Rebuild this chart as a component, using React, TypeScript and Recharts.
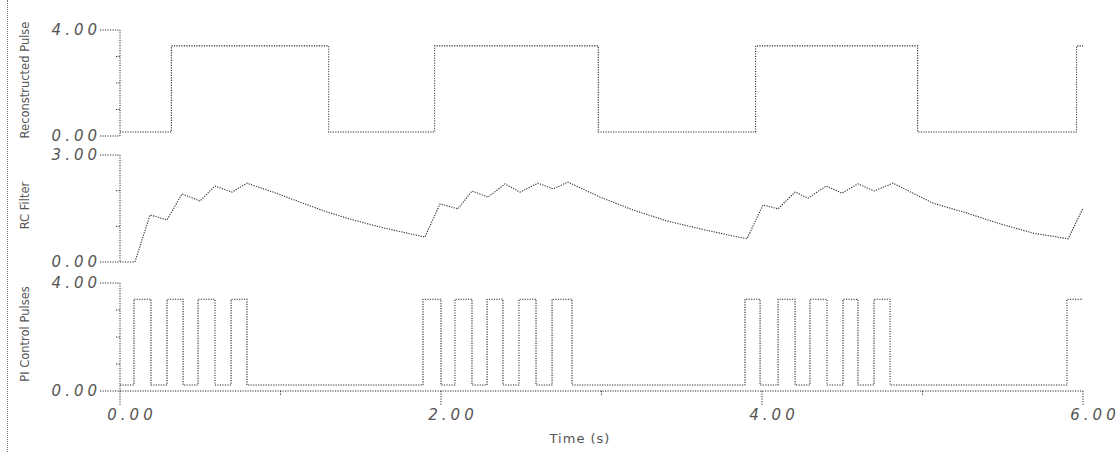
import React from "react";
import { LineChart, Line, XAxis, YAxis, Label } from "recharts";

// ---------- data ----------
// Reconstructed pulse: square wave edge times (s) and levels
const squareEdges = [0.32, 1.3, 1.96, 2.98, 3.96, 4.97, 5.96];
const squareLow = 0.15;
const squareHigh = 3.4;

// RC filter output
const rcTime = [
  0, 0.093, 0.187, 0.293, 0.386, 0.498, 0.592, 0.698, 0.791, 0.953, 1.121, 1.29, 1.452, 1.62, 1.788, 1.9,
  1.994, 2.106, 2.193, 2.293, 2.399, 2.492, 2.604, 2.698, 2.791, 2.991, 3.196, 3.408, 3.614, 3.819, 3.907,
  4.006, 4.1, 4.206, 4.287, 4.399, 4.498, 4.598, 4.698, 4.816, 5.065, 5.277, 5.483, 5.688, 5.907, 6.0,
];
const rcValue = [
  0, 0, 1.32, 1.18, 1.91, 1.71, 2.13, 1.96, 2.21, 1.96, 1.68, 1.4, 1.18, 0.98, 0.81, 0.7,
  1.63, 1.49, 1.99, 1.82, 2.19, 1.96, 2.21, 2.05, 2.24, 1.82, 1.46, 1.15, 0.93, 0.73, 0.65,
  1.6, 1.49, 1.96, 1.79, 2.13, 1.93, 2.19, 1.99, 2.21, 1.65, 1.37, 1.07, 0.81, 0.65, 1.51,
];

// PI control pulses: rise / fall times (s) and levels
const pwmRise = [0.087, 0.293, 0.486, 0.692, 1.888, 2.087, 2.287, 2.486, 2.692, 3.894, 4.1, 4.299, 4.505, 4.698, 5.9];
const pwmFall = [0.193, 0.393, 0.592, 0.791, 2.0, 2.193, 2.386, 2.592, 2.816, 3.988, 4.206, 4.405, 4.598, 4.798];
const pwmLow = 0.22;
const pwmHigh = 3.4;

const xTicks = [0, 1, 2, 3, 4, 5, 6];
const xMajor = [0, 2, 4, 6];
const panelLabels = ["Reconstructed Pulse", "RC Filter", "PI Control Pulses"];
const xTitle = "Time (s)";

// ---------- helpers ----------
function stepSeries(edges: number[], low: number, high: number, end: number) {
  const pts: { t: number; v: number }[] = [{ t: 0, v: low }];
  let level = low;
  edges.forEach((e) => {
    pts.push({ t: e, v: level });
    level = level === low ? high : low;
    pts.push({ t: e, v: level });
  });
  pts.push({ t: end, v: level });
  return pts;
}

const squareData = stepSeries(squareEdges, squareLow, squareHigh, 6);
const rcData = rcTime.map((t, i) => ({ t, v: rcValue[i] }));
const pwmEdges = [...pwmRise, ...pwmFall].sort((a, b) => a - b);
const pwmData = stepSeries(pwmEdges, pwmLow, pwmHigh, 6);

const INK = "#2a2a2a";
const TEXT = "#555";
const DASH = "1.2 1.3";
const AXIS_X = 120;
const W = 1119;
const MARGIN = { top: 0, right: 36, left: 0, bottom: 0 };

const tickFont: React.CSSProperties = {
  fontFamily: "DejaVu Sans",
  fontStyle: "italic",
  fontSize: 15,
  letterSpacing: 4,
};

function makeYTick(max: number) {
  return (props: any) => {
    const { y, payload } = props;
    const v = payload.value;
    const major = v === 0 || v === max;
    return (
      <g>
        <line
          x1={major ? AXIS_X - 20 : AXIS_X - 4}
          x2={AXIS_X}
          y1={y}
          y2={y}
          stroke={INK}
          strokeDasharray={DASH}
        />
        {major && (
          <text x={AXIS_X - 19} y={y} textAnchor="end" dominantBaseline="central" fill={TEXT} style={tickFont}>
            {v.toFixed(2)}
          </text>
        )}
      </g>
    );
  };
}

function sideLabel(text: string) {
  return (p: any) => {
    const vb = p.viewBox;
    const cy = vb.y + vb.height / 2 - 3;
    return (
      <text
        x={25}
        y={cy}
        transform={`rotate(-90 25 ${cy})`}
        textAnchor="middle"
        dominantBaseline="central"
        fill={TEXT}
        style={{ fontFamily: "DejaVu Sans", fontSize: 11.5 }}
      >
        {text}
      </text>
    );
  };
}

const X_PLOT_BOTTOM = 121;

function XTick(props: any) {
  const { x, payload } = props;
  const v = payload.value;
  const major = xMajor.includes(v);
  return (
    <g>
      <line x1={x} x2={x} y1={X_PLOT_BOTTOM} y2={X_PLOT_BOTTOM + (major ? 14 : 5)} stroke={INK} strokeDasharray={DASH} />
      {major && (
        <text x={x + 12} y={X_PLOT_BOTTOM + 24} textAnchor="middle" dominantBaseline="central" fill={TEXT} style={tickFont}>
          {v.toFixed(2)}
        </text>
      )}
    </g>
  );
}

function xTitleContent() {
  return (
    <text
      x={580}
      y={X_PLOT_BOTTOM + 47}
      textAnchor="middle"
      dominantBaseline="central"
      fill={TEXT}
      style={{ fontFamily: "DejaVu Sans", fontSize: 13, letterSpacing: 1 }}
    >
      {xTitle}
    </text>
  );
}

const lineProps = {
  type: "linear" as const,
  dataKey: "v",
  stroke: INK,
  strokeWidth: 1.1,
  strokeDasharray: DASH,
  dot: false,
  activeDot: false,
  isAnimationActive: false,
};

export default function App() {
  return (
    <div style={{ position: "absolute", left: 0, top: 0, width: W, height: 452, background: "#fff" }}>
      <div
        style={{
          position: "absolute",
          left: 7,
          top: 0,
          width: 0,
          height: 452,
          borderLeft: "1px dotted #777",
        }}
      />
      {/* Panel 1: plot 30..136 */}
      <div style={{ position: "absolute", left: 0, top: 0 }}>
        <LineChart width={W} height={150} data={squareData} margin={{ ...MARGIN, top: 30, bottom: 14 }}>
          <XAxis dataKey="t" type="number" domain={[0, 6]} hide />
          <YAxis
            type="number"
            domain={[0, 4]}
            ticks={[0, 1, 2, 3, 4]}
            interval={0}
            width={120}
            tickLine={false}
            axisLine={{ stroke: INK, strokeDasharray: DASH }}
            tick={makeYTick(4)}
          >
            <Label content={sideLabel(panelLabels[0])} />
          </YAxis>
          <Line {...lineProps} />
        </LineChart>
      </div>
      {/* Panel 2: plot 155..262 */}
      <div style={{ position: "absolute", left: 0, top: 140 }}>
        <LineChart width={W} height={135} data={rcData} margin={{ ...MARGIN, top: 15, bottom: 13 }}>
          <XAxis dataKey="t" type="number" domain={[0, 6]} hide />
          <YAxis
            type="number"
            domain={[0, 3]}
            ticks={[0, 1, 2, 3]}
            interval={0}
            width={120}
            tickLine={false}
            axisLine={{ stroke: INK, strokeDasharray: DASH }}
            tick={makeYTick(3)}
          >
            <Label content={sideLabel(panelLabels[1])} />
          </YAxis>
          <Line {...lineProps} />
        </LineChart>
      </div>
      {/* Panel 3: plot 283..391 */}
      <div style={{ position: "absolute", left: 0, top: 270 }}>
        <LineChart width={W} height={182} data={pwmData} margin={{ ...MARGIN, top: 13, bottom: 0 }}>
          <XAxis
            dataKey="t"
            type="number"
            domain={[0, 6]}
            ticks={xTicks}
            height={61}
            tickLine={false}
            axisLine={{ stroke: INK, strokeDasharray: DASH }}
            tick={XTick}
            interval={0}
          >
            <Label content={xTitleContent} />
          </XAxis>
          <YAxis
            type="number"
            domain={[0, 4]}
            ticks={[0, 1, 2, 3, 4]}
            interval={0}
            width={120}
            tickLine={false}
            axisLine={{ stroke: INK, strokeDasharray: DASH }}
            tick={makeYTick(4)}
          >
            <Label content={sideLabel(panelLabels[2])} />
          </YAxis>
          <Line {...lineProps} />
        </LineChart>
      </div>
    </div>
  );
}
